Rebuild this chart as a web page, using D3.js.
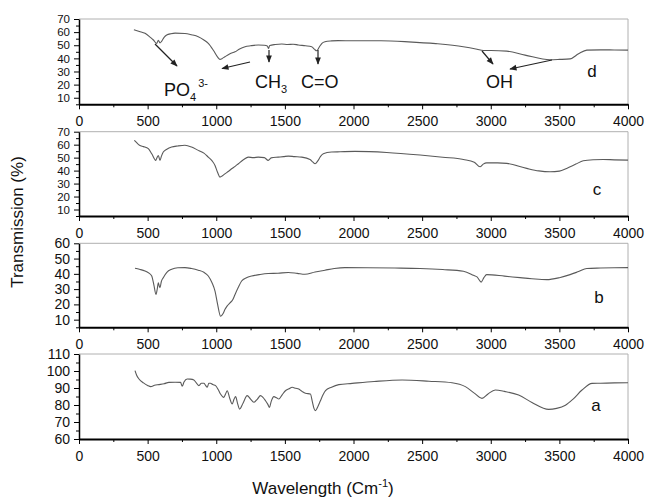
<!DOCTYPE html>
<html><head><meta charset="utf-8">
<script src="https://cdn.jsdelivr.net/npm/d3@7/dist/d3.min.js"></script>
<style>body{margin:0;background:#fff}svg{display:block;font-family:"Liberation Sans",Arial,sans-serif}</style>
</head><body>
<svg id="c" width="646" height="500"></svg>
<script>
// ---- data (wavenumber, transmission %) ----
const xTicks = [0,500,1000,1500,2000,2500,3000,3500,4000];
const panelLabels = ["d","c","b","a"];
const seriesD = [[400,61.8],[440,60.5],[481,59.1],[520,56],[542,54],[566,51.4],[578,53.8],[590,51.8],[602,53],[620,56],[639,57.8],[670,58.8],[700,59.2],[772,59],[820,58],[869,56.5],[910,54],[942,51.4],[980,46],[1010,41],[1027,39.2],[1045,40],[1063,41.2],[1100,43.5],[1137,45],[1170,47.2],[1210,48.9],[1250,49.6],[1306,50.2],[1350,50],[1372,49.5],[1380,47.5],[1390,49.8],[1430,50.6],[1477,51],[1520,50.6],[1560,50.8],[1598,50.2],[1650,49.6],[1695,48.9],[1715,47],[1732,45.8],[1750,48.5],[1770,51.5],[1792,52.7],[1840,53.3],[1888,53.5],[2000,53.4],[2200,53.4],[2400,52.6],[2600,51.2],[2800,48.9],[2900,47],[2946,46],[3000,46],[3117,45.5],[3250,42.5],[3432,39],[3500,39.2],[3578,39.6],[3640,43.5],[3700,46.3],[3800,46.5],[3900,46.4],[4000,46.3]];
const seriesC = [[403,63.3],[420,61.5],[441,59.5],[470,58.5],[505,56.9],[530,53],[559,47.9],[568,50],[578,51.7],[590,47.9],[600,51],[614,54.3],[640,56.5],[675,58.2],[720,59],[772,59.5],[820,58.2],[869,55.6],[910,53.5],[942,50.4],[970,47.5],[991,44],[1010,38.5],[1027,35],[1045,36],[1063,37.5],[1090,39.5],[1112,41.4],[1140,43.5],[1161,45.3],[1200,48.5],[1233,50.4],[1270,50],[1306,50.4],[1350,50],[1379,47.9],[1400,49.8],[1452,50.4],[1490,50.8],[1525,51.2],[1570,50.8],[1622,50.4],[1683,48.6],[1705,46.5],[1720,45.3],[1740,47.5],[1760,51],[1780,53],[1840,54.3],[1902,54.5],[2010,54.8],[2242,54],[2485,52],[2650,50.3],[2801,48.6],[2880,46.5],[2922,43],[2945,45],[2970,46],[3050,46],[3117,45.6],[3262,41.7],[3350,39.8],[3432,39.1],[3500,39.6],[3553,41.7],[3620,45],[3674,47.6],[3750,48.4],[3820,48.6],[3900,48.3],[4000,48.1]];
const seriesB = [[408,43.7],[440,43],[481,41.9],[510,40.5],[530,38.6],[545,33],[561,26.5],[570,30],[578,34.2],[585,32],[590,31],[600,35],[614,37.5],[640,41],[675,43],[720,44],[772,44.1],[820,43.5],[869,42.4],[910,41],[942,38.6],[970,34],[991,28.7],[1010,20],[1032,12.2],[1050,14],[1063,16.6],[1080,19],[1100,21],[1120,23],[1137,26.5],[1160,31],[1185,35.3],[1220,37.5],[1258,38.6],[1320,39.6],[1379,40.2],[1450,40.4],[1525,40.9],[1590,40.3],[1646,39.7],[1720,41.2],[1792,42.4],[1860,43.5],[1937,44.1],[2100,44],[2300,43.8],[2485,43.5],[2650,42.8],[2801,41.7],[2874,39.1],[2900,38],[2930,34.6],[2950,37.5],[2970,39.5],[3100,38.5],[3213,37.5],[3300,36.8],[3408,36.2],[3500,37.5],[3578,39.5],[3640,41.5],[3700,43.5],[3800,43.8],[3900,44],[4000,44.1]];
const seriesA = [[408,100.2],[420,97.5],[437,95.3],[470,93],[500,91.5],[522,90.8],[550,91.6],[583,92],[620,92.5],[655,93.3],[700,93.4],[740,93.3],[752,91],[765,93.5],[788,95.3],[810,95.2],[837,94.7],[855,93],[874,91.4],[892,92.8],[910,92.8],[922,91.6],[934,90.4],[946,92.8],[958,92.8],[975,92],[995,91.4],[1015,89],[1031,86.5],[1055,84.5],[1068,86.5],[1080,88.4],[1098,84],[1116,80.6],[1130,83.5],[1141,84.9],[1155,81],[1170,77.6],[1195,81],[1225,85.5],[1250,83.5],[1274,81.6],[1300,83.5],[1322,85.5],[1340,84.5],[1359,82.5],[1375,80.5],[1388,78.6],[1400,82],[1420,84.9],[1440,84.2],[1456,83.5],[1480,86],[1504,88.4],[1530,89.5],[1553,90.4],[1580,89.8],[1601,89.4],[1625,88],[1650,86.9],[1686,86.5],[1700,82],[1712,78],[1723,76.7],[1740,79],[1759,82.5],[1778,86],[1796,88.4],[1840,90.5],[1893,92],[1990,92.7],[2150,93.8],[2354,94.7],[2550,94],[2718,93.1],[2815,90.8],[2880,87],[2936,83.9],[2980,86.5],[3033,88.8],[3100,88],[3203,85.9],[3300,81.5],[3422,77.4],[3480,78],[3544,79.9],[3600,83.5],[3665,88.8],[3738,92.7],[3800,92.8],[3900,93],[4000,93.1]];
const yDomains = [[5,70],[5,70],[5,60],[60,110]];
const yMajorTicks = [[10,20,30,40,50,60,70],[10,20,30,40,50,60,70],[10,20,30,40,50,60],[60,70,80,90,100,110]];

// ---- layout ----
const svg = d3.select("#c");
const x = d3.scaleLinear().domain([0,4000]).range([79,628]);
const panels = [
  {top:19, bottom:104.3, data:seriesD, yFont:11.5},
  {top:131.7, bottom:216, data:seriesC, yFont:11.5},
  {top:243.3, bottom:327.3, data:seriesB, yFont:14},
  {top:354, bottom:439, data:seriesA, yFont:14}
];
const labelPos = [[592,76.5],[597,195],[599,303],[596,410.5]];
const xMinor = d3.range(250,4000,500);

panels.forEach((p,i)=>{
  const y = d3.scaleLinear().domain(yDomains[i]).range([p.bottom,p.top]);
  const top = y(yDomains[i][1]);
  svg.append("line").attr("x1",x(0)).attr("x2",x(4000)).attr("y1",top).attr("y2",top)
     .attr("stroke","#b0b0b0").attr("stroke-width",1);
  svg.append("line").attr("x1",x(4000)).attr("x2",x(4000)).attr("y1",top).attr("y2",p.bottom)
     .attr("stroke","#b0b0b0").attr("stroke-width",1);
  const gx = svg.append("g").attr("transform",`translate(0,${p.bottom})`)
     .call(d3.axisBottom(x).tickValues(xTicks).tickFormat(d3.format("d")).tickSize(5).tickPadding(7).tickSizeOuter(0));
  gx.selectAll("text").attr("font-size",14);
  svg.append("g").attr("transform",`translate(0,${p.bottom})`)
     .call(d3.axisBottom(x).tickValues(xMinor).tickFormat("").tickSize(3).tickSizeOuter(0))
     .select(".domain").remove();
  gx.select(".domain").attr("stroke-width",2);
  const minors = [];
  for (let v=yDomains[i][0]; v<=yDomains[i][1]; v+=5) if (yMajorTicks[i].indexOf(v)<0) minors.push(v);
  const gy = svg.append("g").attr("transform",`translate(${x(0)},0)`)
     .call(d3.axisLeft(y).tickValues(yMajorTicks[i]).tickFormat(d3.format("d")).tickSize(5).tickPadding(4).tickSizeOuter(0));
  gy.selectAll("text").attr("font-size",p.yFont);
  svg.append("g").attr("transform",`translate(${x(0)},0)`)
     .call(d3.axisLeft(y).tickValues(minors).tickFormat("").tickSize(3).tickSizeOuter(0))
     .select(".domain").remove();
  gy.select(".domain").attr("stroke-width",1.5);
  const line = d3.line().x(d=>x(d[0])).y(d=>y(d[1])).curve(d3.curveMonotoneX);
  svg.append("path").datum(p.data).attr("d",line).attr("fill","none")
     .attr("stroke","#5a5a5a").attr("stroke-width",1.1);
  svg.append("text").attr("x",labelPos[i][0]).attr("y",labelPos[i][1]).attr("text-anchor","middle")
     .attr("font-size",17).attr("fill","#111").text(panelLabels[i]);
});
svg.selectAll("g.tick text").attr("fill","#111").attr("font-family","Liberation Sans, Arial, sans-serif");

// ---- annotations on panel d ----
svg.append("defs").append("marker").attr("id","ah").attr("viewBox","0 0 10 10")
  .attr("refX",9).attr("refY",5).attr("markerWidth",7).attr("markerHeight",6).attr("orient","auto")
  .append("path").attr("d","M0,1 L10,5 L0,9 Z").attr("fill","#222");
const arrows = [[155,44,177,66],[250,62,222,68.5],[269,50,269,62],[318,50,318,64],[482,51,493,64],[552,60,510,69]];
arrows.forEach(a=>svg.append("line").attr("x1",a[0]).attr("y1",a[1]).attr("x2",a[2]).attr("y2",a[3])
  .attr("stroke","#222").attr("stroke-width",1.2).attr("marker-end","url(#ah)"));

function ann(xp,yp,main,sub,sup){
  const t = svg.append("text").attr("x",xp).attr("y",yp).attr("font-size",18).attr("fill","#111");
  t.append("tspan").text(main);
  if (sub) t.append("tspan").attr("font-size",11).attr("dy",5).text(sub);
  if (sup) t.append("tspan").attr("font-size",11).attr("dx",2).attr("dy",-14).text(sup);
}
ann(164,96,"PO","4","3-");
ann(255,88,"CH","3");
ann(301,88,"C=O");
ann(486,88,"OH");

// ---- axis titles ----
svg.append("text").attr("transform","translate(23,222) rotate(-90)").attr("text-anchor","middle")
  .attr("font-size",17).attr("fill","#111").text("Transmission (%)");
const xt = svg.append("text").attr("x",323).attr("y",494).attr("text-anchor","middle").attr("font-size",17).attr("fill","#111");
xt.append("tspan").text("Wavelength (Cm");
xt.append("tspan").attr("font-size",11).attr("dy",-7).text("-1");
xt.append("tspan").attr("dy",7).text(")");
</script>
</body></html>
